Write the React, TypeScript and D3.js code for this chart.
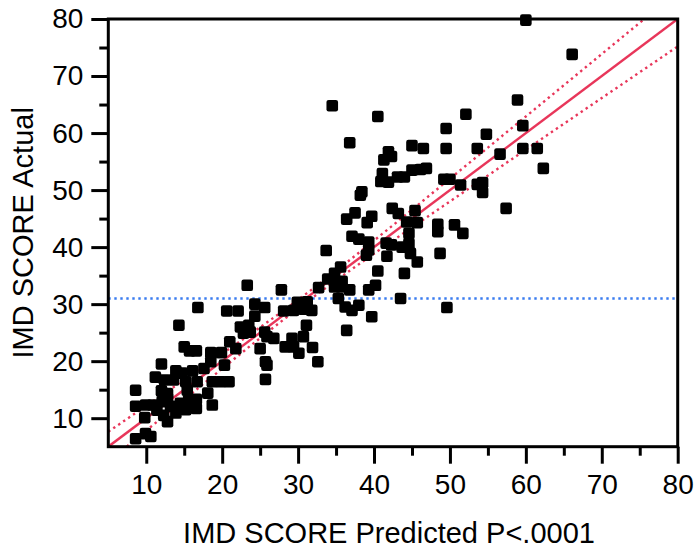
import { useEffect, useRef } from 'react'
import * as d3 from 'd3'

// IMD SCORE: predicted (x) vs actual (y)
const predicted = [
  16.8, 20.6, 22.1, 24.3, 25.6, 24.3, 14.3, 22.4, 23.5, 22.8, 23.7, 25.6, 25.9, 26.8,
  15.0, 15.7, 16.6, 21.0, 21.8, 18.5, 19.9, 25.0, 18.5, 20.3, 17.6, 12.0, 25.7, 25.9,
  25.7, 11.2, 13.9, 14.7, 16.1, 12.4, 13.6, 15.2, 16.7, 18.7, 19.8, 20.9, 15.4, 12.0,
  12.8, 18.1, 8.6, 8.6, 9.9, 10.9, 12.1, 12.8, 13.2, 14.5, 15.6, 16.6, 16.6, 18.7,
  13.9, 15.2, 16.1, 12.3, 12.8, 9.8, 11.4, 8.6, 9.9, 10.6,
  23.3, 27.8, 28.1, 29.9, 31.2, 29.4, 30.7, 31.8, 31.1, 30.7, 29.2, 28.3, 29.4, 30.1,
  31.9, 32.6, 36.4, 32.7, 33.7, 35.6, 34.8, 33.9, 34.8, 35.8, 34.8, 35.7, 36.8, 35.3,
  36.2, 37.1, 38.0, 39.7, 39.3, 40.2, 40.5, 44.0, 43.5, 49.6,
  37.1, 38.0, 39.3, 39.3, 39.0, 41.6, 42.3, 41.7, 44.6, 44.6, 43.7, 44.8, 45.7, 48.7,
  48.4, 48.4, 50.6, 51.7, 44.3, 45.7, 45.4, 42.4, 43.2, 37.5, 36.4, 39.7, 39.1,
  38.4, 38.2, 41.1, 40.9, 41.9, 43.1, 44.0, 45.0, 46.1, 46.9, 49.2, 50.0, 51.4, 53.6,
  54.3, 54.3, 41.9, 42.3, 41.3, 45.0, 46.5, 49.5, 49.5, 52.1, 54.8, 53.6, 56.6,
  58.9, 59.6, 59.6, 61.5, 62.3, 57.4, 60.0, 66.1, 34.5, 40.5, 36.8,
]
const actual = [
  29.4, 28.8, 28.8, 30.0, 29.4, 27.9, 26.3, 26.0, 26.3, 24.9, 25.1, 25.1, 24.3, 24.0,
  22.5, 21.8, 21.8, 23.4, 22.2, 21.5, 21.5, 22.2, 19.9, 19.3, 18.7, 19.5, 19.9, 19.3,
  16.8, 17.2, 18.3, 17.9, 18.3, 16.7, 16.7, 16.4, 16.4, 16.4, 16.4, 16.4, 14.9, 14.8,
  14.3, 14.4, 14.9, 12.1, 12.3, 12.3, 12.9, 13.5, 12.1, 12.6, 13.2, 13.3, 11.7, 12.3,
  10.9, 11.5, 11.9, 10.5, 9.4, 10.1, 11.4, 6.4, 7.3, 6.8,
  33.3, 32.5, 28.8, 30.3, 30.4, 28.9, 29.1, 28.9, 26.3, 24.3, 24.0, 22.5, 22.5, 21.4,
  22.4, 19.9, 25.4, 32.9, 39.4, 36.5, 35.4, 34.4, 34.2, 34.0, 33.0, 33.0, 32.5, 31.0,
  29.5, 28.9, 29.8, 27.8, 32.5, 33.3, 35.8, 35.4, 31.0, 29.4,
  41.9, 41.4, 40.9, 39.5, 38.6, 40.7, 40.4, 38.4, 42.4, 40.6, 40.0, 38.9, 37.4, 38.9,
  44.0, 42.7, 43.9, 42.4, 44.4, 44.3, 46.4, 46.8, 45.9, 46.0, 44.9, 45.4, 44.3,
  49.7, 49.1, 52.9, 51.5, 51.4, 52.3, 52.3, 53.5, 53.6, 53.8, 51.9, 51.9, 50.9, 51.0,
  51.3, 49.6, 56.7, 55.9, 55.3, 57.8, 57.3, 60.8, 57.3, 63.3, 59.8, 57.3, 56.3,
  65.8, 61.3, 57.3, 57.3, 53.8, 46.8, 79.8, 73.8, 64.8, 62.9, 58.3,
]

const majorTicks = [10, 20, 30, 40, 50, 60, 70, 80]
const minorTicks = [15, 25, 35, 45, 55, 65, 75]
const axisMin = 5
const axisMax = 80

// fit: actual = predicted, mean of actual, confidence curve shape
const meanActual = 31.0
const meanPredicted = 31.0
const ciCenterHalf = 0.75
const ciSlope = 0.097

const xTitle = 'IMD SCORE Predicted P<.0001'
const yTitle = 'IMD SCORE Actual'

const W = 697
const H = 548
const FONT = '"Liberation Sans", Arial, sans-serif'

export default function App() {
  const svgRef = useRef<SVGSVGElement>(null)

  useEffect(() => {
    if (!svgRef.current) return
    const svg = d3.select(svgRef.current)
    svg.selectAll('*').remove()

    const left = 108.3, right = 677.7, top = 19, bottom = 446.7
    const x = d3.scaleLinear().domain([axisMin, axisMax]).range([left, right])
    const y = d3.scaleLinear().domain([axisMin, axisMax]).range([bottom, top])

    svg.append('defs').append('clipPath').attr('id', 'plot-clip')
      .append('rect').attr('x', left).attr('y', top)
      .attr('width', right - left).attr('height', bottom - top)

    const lines = svg.append('g').attr('clip-path', 'url(#plot-clip)')

    // mean line
    lines.append('line')
      .attr('x1', left).attr('x2', right)
      .attr('y1', y(meanActual)).attr('y2', y(meanActual))
      .attr('stroke', '#3a7cf0').attr('stroke-width', 2.4)
      .attr('stroke-dasharray', '2.4 3.6')

    // fit line and confidence curves
    const xs = d3.range(axisMin, axisMax + 0.01, 0.5)
    const half = (v: number) => Math.sqrt(ciCenterHalf ** 2 + (ciSlope * (v - meanPredicted)) ** 2)
    const line = d3.line<number[]>().x(d => x(d[0])).y(d => y(d[1]))

    lines.append('path')
      .attr('d', line([[axisMin, axisMin], [axisMax, axisMax]]))
      .attr('fill', 'none').attr('stroke', '#e8365a').attr('stroke-width', 2.5)

    ;[1, -1].forEach(sign => {
      lines.append('path')
        .attr('d', line(xs.map(v => [v, v + sign * half(v)])))
        .attr('fill', 'none').attr('stroke', '#e8365a').attr('stroke-width', 2.4)
        .attr('stroke-dasharray', '2.4 3.6')
    })

    // axes
    const styleAxis = (g: d3.Selection<SVGGElement, unknown, null, undefined>) => {
      g.select('.domain').remove()
      g.selectAll('.tick line').style('stroke', '#000').style('stroke-width', '3px')
      g.selectAll('.tick text').attr('fill', '#000').attr('font-size', 28).attr('font-family', FONT)
    }

    svg.append('g').attr('transform', `translate(0,${bottom})`)
      .call(d3.axisBottom(x).tickValues(minorTicks).tickSize(9).tickFormat(() => ''))
      .call(styleAxis)
    svg.append('g').attr('transform', `translate(0,${bottom})`)
      .call(d3.axisBottom(x).tickValues(majorTicks).tickSize(17).tickPadding(10).tickFormat(d3.format('d')))
      .call(styleAxis)
    svg.append('g').attr('transform', `translate(${left},0)`)
      .call(d3.axisLeft(y).tickValues(minorTicks).tickSize(9).tickFormat(() => ''))
      .call(styleAxis)
    svg.append('g').attr('transform', `translate(${left},0)`)
      .call(d3.axisLeft(y).tickValues(majorTicks).tickSize(17).tickPadding(8).tickFormat(d3.format('d')))
      .call(styleAxis)

    // frame
    svg.append('rect')
      .attr('x', left).attr('y', top)
      .attr('width', right - left).attr('height', bottom - top)
      .attr('fill', 'none').attr('stroke', '#000').attr('stroke-width', 3)

    // points
    const s = 11.6
    svg.append('g').selectAll('rect')
      .data(predicted.map((p, i) => [p, actual[i]]))
      .join('rect')
      .attr('x', d => x(d[0]) - s / 2)
      .attr('y', d => y(d[1]) - s / 2)
      .attr('width', s).attr('height', s)
      .attr('rx', 2.2)
      .attr('fill', '#000')

    // titles
    svg.append('text')
      .attr('x', 389).attr('y', 543)
      .attr('text-anchor', 'middle')
      .attr('font-size', 29).attr('font-family', FONT).attr('fill', '#000')
      .text(xTitle)
    svg.append('text')
      .attr('transform', `translate(33,${(top + bottom) / 2}) rotate(-90)`)
      .attr('text-anchor', 'middle')
      .attr('font-size', 29).attr('font-family', FONT).attr('fill', '#000')
      .text(yTitle)
  }, [])

  return (
    <div style={{ position: 'absolute', left: 0, top: 0 }}>
      <svg ref={svgRef} width={W} height={H} style={{ display: 'block', background: '#fff' }} />
    </div>
  )
}
